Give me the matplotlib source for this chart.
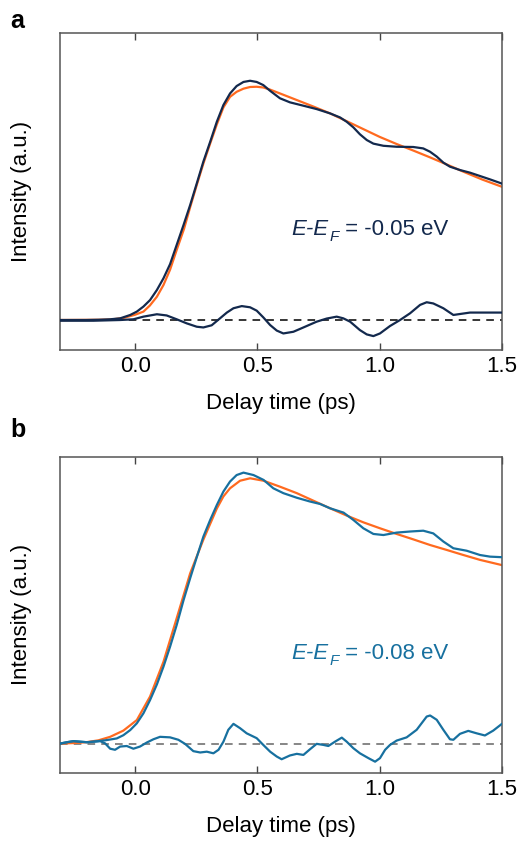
import matplotlib
matplotlib.use("Agg")
import matplotlib.pyplot as plt
from matplotlib.transforms import offset_copy

plt.rcParams['font.family'] = ['Liberation Sans', 'DejaVu Sans']

# ---- panel a : E-EF = -0.05 eV ----
xa_data = [-0.307, -0.2, -0.15, -0.102, -0.061, -0.020, 0.007, 0.034, 0.061, 0.089, 0.116, 0.143, 0.170,
           0.198, 0.225, 0.252, 0.279, 0.307, 0.334, 0.361, 0.388, 0.415, 0.443, 0.470, 0.497, 0.524,
           0.552, 0.592, 0.633, 0.688, 0.742, 0.797, 0.838, 0.865, 0.892, 0.919, 0.947, 0.974, 1.015,
           1.069, 1.137, 1.178, 1.206, 1.233, 1.260, 1.287, 1.328, 1.369, 1.410, 1.451, 1.498]
ya_data = [0.0, 0.0, 0.001, 0.003, 0.007, 0.021, 0.035, 0.056, 0.083, 0.125, 0.174, 0.233, 0.313,
           0.396, 0.479, 0.569, 0.660, 0.743, 0.826, 0.896, 0.944, 0.975, 0.992, 0.997, 0.992, 0.979,
           0.955, 0.924, 0.907, 0.893, 0.879, 0.861, 0.844, 0.826, 0.803, 0.774, 0.750, 0.735, 0.726,
           0.722, 0.721, 0.715, 0.701, 0.681, 0.656, 0.639, 0.625, 0.614, 0.600, 0.586, 0.569]

xa_fit = [-0.307, -0.15, -0.1, -0.05, 0.0, 0.034, 0.06, 0.089, 0.116, 0.143, 0.17, 0.2, 0.225, 0.252,
          0.28, 0.307, 0.334, 0.361, 0.388, 0.415, 0.443, 0.47, 0.497, 0.524, 0.552, 0.6, 0.66, 0.73,
          0.797, 0.866, 0.934, 1.0, 1.07, 1.14, 1.205, 1.27, 1.342, 1.42, 1.5]
ya_fit = [0.0, 0.001, 0.002, 0.008, 0.022, 0.035, 0.06, 0.097, 0.146, 0.21, 0.292, 0.38, 0.47, 0.5625,
          0.655, 0.736, 0.815, 0.886, 0.93, 0.951, 0.964, 0.971, 0.972, 0.969, 0.96, 0.941, 0.917, 0.889,
          0.861, 0.828, 0.795, 0.763, 0.733, 0.705, 0.678, 0.65, 0.618, 0.585, 0.555]

xa_res = [-0.307, -0.170, -0.061, -0.007, 0.034, 0.089, 0.129, 0.170, 0.211, 0.252, 0.279, 0.313, 0.347,
          0.375, 0.402, 0.436, 0.470, 0.497, 0.524, 0.552, 0.579, 0.606, 0.647, 0.688, 0.742, 0.783,
          0.824, 0.851, 0.879, 0.919, 0.947, 0.974, 1.001, 1.042, 1.083, 1.124, 1.165, 1.192, 1.219,
          1.260, 1.301, 1.328, 1.369, 1.424, 1.498]
ya_res = [-0.003, -0.003, 0.0, 0.003, 0.014, 0.024, 0.019, 0.003, -0.014, -0.028, -0.031, -0.022, 0.007,
          0.031, 0.049, 0.058, 0.053, 0.039, 0.011, -0.021, -0.044, -0.056, -0.049, -0.031, -0.007, 0.006,
          0.014, 0.007, -0.007, -0.042, -0.060, -0.067, -0.056, -0.025, 0.0, 0.028, 0.063, 0.074, 0.069,
          0.049, 0.021, 0.025, 0.031, 0.031, 0.031]

# ---- panel b : E-EF = -0.08 eV ----
xb_data = [-0.307, -0.279, -0.252, -0.225, -0.197, -0.170, -0.143, -0.123, -0.102, -0.075, -0.048, -0.020,
           0.007, 0.034, 0.061, 0.089, 0.116, 0.143, 0.170, 0.198, 0.225, 0.252, 0.279, 0.307, 0.334,
           0.361, 0.388, 0.415, 0.443, 0.484, 0.525, 0.565, 0.606, 0.661, 0.715, 0.756, 0.797, 0.852,
           0.892, 0.933, 0.974, 1.015, 1.069, 1.124, 1.178, 1.219, 1.260, 1.301, 1.355, 1.410, 1.451, 1.498]
yb_data = [0.0, 0.005, 0.009, 0.007, 0.005, 0.007, 0.010, 0.012, 0.015, 0.019, 0.031, 0.050,
           0.075, 0.112, 0.161, 0.219, 0.285, 0.359, 0.439, 0.531, 0.612, 0.690, 0.766, 0.828, 0.883,
           0.933, 0.970, 0.994, 1.003, 0.994, 0.976, 0.945, 0.927, 0.910, 0.896, 0.887, 0.871, 0.855,
           0.828, 0.797, 0.776, 0.772, 0.781, 0.785, 0.788, 0.778, 0.748, 0.723, 0.714, 0.698, 0.692, 0.690]

xb_fit = [-0.307, -0.25, -0.2, -0.15, -0.102, -0.048, 0.007, 0.061, 0.116, 0.170, 0.225, 0.279, 0.334,
          0.361, 0.388, 0.429, 0.470, 0.525, 0.592, 0.661, 0.729, 0.797, 0.865, 0.933, 1.001, 1.069,
          1.137, 1.206, 1.273, 1.342, 1.410, 1.498]
yb_fit = [0.0, 0.002, 0.005, 0.012, 0.025, 0.048, 0.087, 0.174, 0.303, 0.464, 0.630, 0.755, 0.870,
          0.915, 0.945, 0.973, 0.982, 0.973, 0.951, 0.927, 0.899, 0.871, 0.844, 0.819, 0.797, 0.776,
          0.756, 0.735, 0.717, 0.698, 0.680, 0.661]

xb_res = [-0.307, -0.279, -0.252, -0.225, -0.197, -0.170, -0.143, -0.123, -0.102, -0.082, -0.061, -0.034,
          -0.007, 0.020, 0.048, 0.075, 0.102, 0.143, 0.177, 0.204, 0.238, 0.266, 0.293, 0.320, 0.341,
          0.361, 0.381, 0.402, 0.429, 0.456, 0.497, 0.524, 0.552, 0.579, 0.599, 0.633, 0.661, 0.688,
          0.715, 0.742, 0.770, 0.790, 0.817, 0.845, 0.865, 0.892, 0.919, 0.954, 0.981, 1.001, 1.022,
          1.042, 1.069, 1.110, 1.151, 1.192, 1.206, 1.233, 1.260, 1.287, 1.301, 1.328, 1.362, 1.396,
          1.430, 1.464, 1.498]
yb_res = [0.0, 0.005, 0.009, 0.007, 0.005, 0.007, 0.009, 0.001, -0.019, -0.023, -0.011, -0.009,
          -0.019, -0.011, 0.004, 0.016, 0.025, 0.023, 0.014, -0.001, -0.028, -0.033, -0.030, -0.036, -0.023,
          0.007, 0.051, 0.073, 0.057, 0.038, 0.020, -0.005, -0.030, -0.048, -0.058, -0.044, -0.038, -0.042,
          -0.021, -0.001, -0.005, -0.009, 0.007, 0.022, 0.007, -0.017, -0.036, -0.054, -0.067, -0.054, -0.023,
          -0.005, 0.011, 0.023, 0.051, 0.100, 0.104, 0.088, 0.051, 0.016, 0.014, 0.036, 0.047, 0.038,
          0.030, 0.048, 0.072]

xticks = [0.0, 0.5, 1.0, 1.5]
xticklabels = ['0.0', '0.5', '1.0', '1.5']

navy = '#13294d'
blue = '#17709f'
orange = '#ff6a1f'


def energy_label(ax, x, y, value, col):
    # E-E_F = value, drawn piece by piece so the subscript sits low like the original
    fig = ax.figure
    renderer = fig.canvas.get_renderer()
    pieces = [('E-E', 16, 'italic', 0), ('F', 11, 'italic', -4), (' = ' + value, 16, 'normal', 0)]
    trans = ax.transData
    for s, size, style, dy in pieces:
        t = ax.text(x, y, s, color=col, fontsize=size, style=style, va='baseline',
                    transform=offset_copy(trans, fig=fig, x=0, y=dy, units='points'))
        t.draw(renderer)
        ex = t.get_window_extent(renderer)
        trans = offset_copy(trans, fig=fig, x=ex.width + 0.5, y=0, units='dots')


def draw_panel(ax, xd, yd, xf, yf, xr, yr, col, dash_col, value, ylim, label_y):
    ax.axhline(0, color=dash_col, lw=1.1, ls=(0, (5, 4)), zorder=1)
    ax.plot(xf, yf, color=orange, lw=1.6, zorder=2)
    ax.plot(xd, yd, color=col, lw=1.6, zorder=3)
    ax.plot(xr, yr, color=col, lw=1.6, zorder=3)
    ax.set_xlim(-0.307, 1.5)
    ax.set_ylim(*ylim)
    ax.set_xticks(xticks)
    ax.set_xticklabels(xticklabels)
    ax.set_yticks([])
    ax.tick_params(axis='x', direction='in', top=True, length=5, width=1,
                   color='#444444', labelsize=16, pad=4)
    for s in ax.spines.values():
        s.set_color('#555555')
        s.set_linewidth(1.1)
    ax.set_xlabel('Delay time (ps)', fontsize=16, labelpad=12)
    ax.set_ylabel('Intensity (a.u.)', fontsize=16, labelpad=20)
    energy_label(ax, 0.64, label_y, value, col)


fig = plt.figure(figsize=(5.21, 8.44), dpi=100)
ax_a = fig.add_axes([0.1152, 0.5853, 0.8484, 0.3756])
ax_b = fig.add_axes([0.1152, 0.0841, 0.8484, 0.3748])

draw_panel(ax_a, xa_data, ya_data, xa_fit, ya_fit, xa_res, ya_res, navy, 'black',
           '-0.05 eV', (-0.125, 1.196), 0.354)
draw_panel(ax_b, xb_data, yb_data, xb_fit, yb_fit, xb_res, yb_res, blue, '#666666',
           '-0.08 eV', (-0.109, 1.062), 0.312)

fig.text(0.02, 0.967, 'a', fontsize=18, fontweight='bold')
fig.text(0.02, 0.482, 'b', fontsize=18, fontweight='bold')

fig.savefig('out.png', dpi=100)
